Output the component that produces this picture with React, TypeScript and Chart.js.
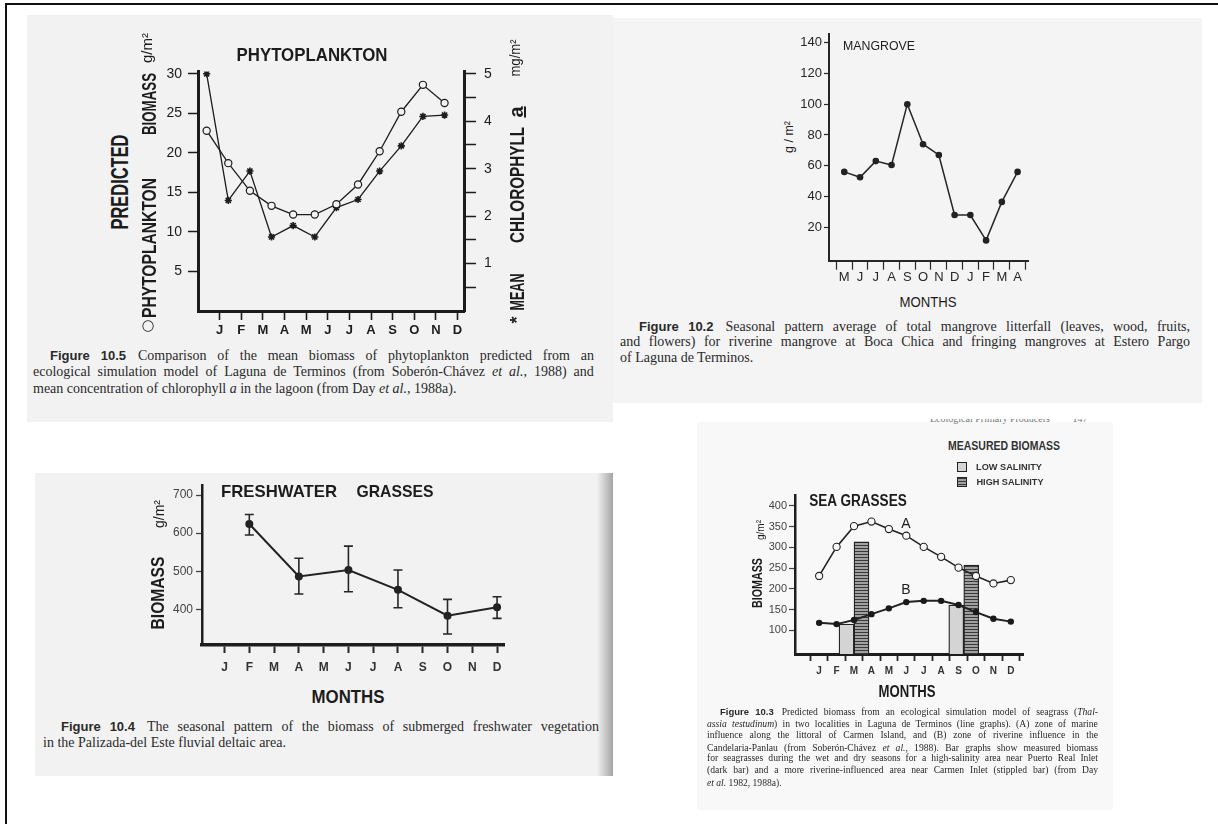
import React, { useEffect, useRef } from "react";
import { Chart, registerables } from "chart.js";

Chart.register(...registerables);

const SANS = "'Liberation Sans', Arial, sans-serif";
const SERIF = "'Liberation Serif', 'Times New Roman', serif";
const INK = "#1c1c1c";

// ---------------- Figure 10.5 : phytoplankton ----------------
const PHYTO_MONTHS = ["J", "F", "M", "A", "M", "J", "J", "A", "S", "O", "N", "D"];
const PHYTO_PREDICTED = [22.8, 18.7, 15.2, 13.3, 12.2, 12.2, 13.5, 16.0, 20.2, 25.2, 28.6, 26.3];
const PHYTO_CHLOROPHYLL = [5.0, 2.33, 2.95, 1.56, 1.8, 1.56, 2.18, 2.35, 2.95, 3.48, 4.1, 4.13];
const PHYTO_LEFT_TICKS = [5, 10, 15, 20, 25, 30];
const PHYTO_RIGHT_TICKS = [0.5, 1, 1.5, 2, 2.5, 3, 3.5, 4, 4.5, 5];

// ---------------- Figure 10.2 : mangrove ----------------
const MANGROVE_MONTHS = ["M", "J", "J", "A", "S", "O", "N", "D", "J", "F", "M", "A"];
const MANGROVE_LITTERFALL = [56, 52.5, 63, 60.5, 100, 74, 67, 28, 28, 11.5, 36.5, 56];
const MANGROVE_TICKS = [20, 40, 60, 80, 100, 120, 140];

// ---------------- Figure 10.4 : freshwater grasses ----------------
const FW_MONTHS = ["J", "F", "M", "A", "M", "J", "J", "A", "S", "O", "N", "D"];
const FW_SAMPLE_MONTHS = [1, 3, 5, 7, 9, 11];
const FW_MEAN = [624, 486, 503, 451, 383, 405];
const FW_HIGH = [649, 534, 566, 503, 426, 433];
const FW_LOW = [595, 440, 446, 404, 335, 376];
const FW_TICKS = [400, 500, 600, 700];

// ---------------- Figure 10.3 : sea grasses ----------------
const SG_MONTHS = ["J", "F", "M", "A", "M", "J", "J", "A", "S", "O", "N", "D"];
const SG_A = [231, 301, 351, 362, 344, 328, 301, 277, 251, 231, 213, 221];
const SG_B = [118, 115, 125, 139, 153, 168, 171, 171, 161, 144, 128, 121];
const SG_BAR_MONTHS = [2, 8.3];
const SG_LOW_SALINITY = [115, 161];
const SG_HIGH_SALINITY = [313, 257];
const SG_TICKS = [100, 150, 200, 250, 300, 350, 400];

// ---------------- helpers ----------------
let measureCtx: CanvasRenderingContext2D | null = null;
function textWidth(t: string, font: string): number {
  if (!measureCtx) measureCtx = document.createElement("canvas").getContext("2d");
  measureCtx!.font = font;
  return measureCtx!.measureText(t).width;
}

type TxtProps = {
  x: number; y: number; t: string; font: string; w?: number; rot?: boolean;
  color?: string; underline?: boolean;
};
function Txt({ x, y, t, font, w, rot, color = INK, underline }: TxtProps) {
  const s = w ? w / textWidth(t, font) : 1;
  const tf = `translate(-50%,-50%)${rot ? " rotate(-90deg)" : ""} scaleX(${s.toFixed(3)})`;
  return (
    <div
      style={{
        position: "absolute", left: x, top: y, font, lineHeight: 1, color,
        whiteSpace: "pre", transform: tf, textDecoration: underline ? "underline" : "none",
      }}
    >
      {t}
    </div>
  );
}

type Seg = { t?: string; f?: string; gap?: number };
function Line({ x, y, w, segs, font, justify = true, color = "#2a2a2a" }:
  { x: number; y: number; w: number; segs: Seg[]; font: string; justify?: boolean; color?: string }) {
  let nat = 0;
  let spaces = 0;
  segs.forEach((s) => {
    if (s.gap) nat += s.gap;
    if (s.t) {
      nat += textWidth(s.t, s.f || font);
      spaces += (s.t.match(/ /g) || []).length;
    }
  });
  const ws = justify && spaces ? (w - nat) / spaces : 0;
  return (
    <div
      style={{
        position: "absolute", left: x, top: y, font, lineHeight: 1, color,
        whiteSpace: "pre", wordSpacing: ws, transform: "translateY(-50%)",
      }}
    >
      {segs.map((s, k) =>
        s.gap ? (
          <span key={k} style={{ display: "inline-block", width: s.gap }} />
        ) : (
          <span key={k} style={s.f ? { font: s.f } : undefined}>{s.t}</span>
        )
      )}
    </div>
  );
}

function ChartBox({ left, top, width, height, build }:
  { left: number; top: number; width: number; height: number; build: (c: HTMLCanvasElement) => Chart }) {
  const ref = useRef<HTMLCanvasElement>(null);
  useEffect(() => {
    const chart = build(ref.current!);
    return () => chart.destroy();
  }, []);
  return (
    <canvas ref={ref} width={width} height={height}
      style={{ position: "absolute", left, top, width, height }} />
  );
}

const baseOptions = (padding: any) => ({
  responsive: false,
  animation: false as const,
  devicePixelRatio: 1,
  layout: { padding },
  plugins: { legend: { display: false }, tooltip: { enabled: false } },
});

const tickFont = (size: number, weight: any = "normal") => ({ family: SANS, size, weight });

// ---------------- chart builders ----------------
function buildPhyto(canvas: HTMLCanvasElement) {
  return new Chart(canvas, {
    type: "line",
    data: {
      datasets: [
        {
          label: "Predicted phytoplankton biomass",
          data: PHYTO_PREDICTED.map((v, i) => ({ x: i + 0.4, y: v })),
          yAxisID: "y",
          borderColor: INK, borderWidth: 1.3,
          pointStyle: "circle", pointRadius: 3.6,
          pointBackgroundColor: "#f2f2f2", pointBorderColor: INK, pointBorderWidth: 1.2,
        },
        {
          label: "Mean chlorophyll a",
          data: PHYTO_CHLOROPHYLL.map((v, i) => ({ x: i + 0.4, y: v })),
          yAxisID: "y1",
          borderColor: INK, borderWidth: 1.3,
          pointStyle: "star", pointRadius: 3.6,
          pointBorderColor: INK, pointBorderWidth: 1.6,
        },
      ],
    },
    options: {
      ...baseOptions({ top: 10, left: 0, right: 0, bottom: 0 }),
      scales: {
        x: {
          type: "linear", min: 0, max: 12.3,
          afterBuildTicks: (s: any) => { s.ticks = PHYTO_MONTHS.map((_, i) => ({ value: i + 1 })); },
          afterFit: (s: any) => { s.height = 34; },
          grid: { drawOnChartArea: false, tickLength: 9, tickWidth: 1.6, tickColor: INK },
          border: { color: INK, width: 3 },
          ticks: {
            callback: (v: any) => PHYTO_MONTHS[Math.round(v) - 1] ?? "",
            color: INK, font: tickFont(13, "bold"), padding: 3, maxRotation: 0, autoSkip: false,
          },
        },
        y: {
          position: "left", min: 0, max: 30.3,
          afterBuildTicks: (s: any) => { s.ticks = PHYTO_LEFT_TICKS.map((v) => ({ value: v })); },
          afterFit: (s: any) => { s.width = 48; },
          grid: { drawOnChartArea: false, tickLength: 10, tickWidth: 1.5, tickColor: INK },
          border: { color: INK, width: 3 },
          ticks: { color: INK, font: tickFont(14), padding: 6, autoSkip: false },
        },
        y1: {
          position: "right", min: 0, max: 5.05,
          afterBuildTicks: (s: any) => { s.ticks = PHYTO_RIGHT_TICKS.map((v) => ({ value: v })); },
          afterFit: (s: any) => { s.width = 56; },
          grid: { drawOnChartArea: false, tickLength: 12, tickWidth: 1.5, tickColor: INK },
          border: { color: INK, width: 3 },
          ticks: {
            callback: (v: any) => (Number.isInteger(v) ? String(v) : ""),
            color: INK, font: tickFont(14), padding: 8, autoSkip: false,
          },
        },
      },
    } as any,
  });
}

function buildMangrove(canvas: HTMLCanvasElement) {
  return new Chart(canvas, {
    type: "line",
    data: {
      datasets: [
        {
          label: "Mangrove litterfall",
          data: MANGROVE_LITTERFALL.map((v, i) => ({ x: i, y: v })),
          borderColor: "#262626", borderWidth: 1.5,
          pointRadius: 3.3, pointBackgroundColor: "#222", pointBorderColor: "#222", pointBorderWidth: 0,
        },
      ],
    },
    options: {
      ...baseOptions({ top: 10, left: 0, right: 12, bottom: 0 }),
      scales: {
        x: {
          type: "linear", min: -0.97, max: 11.66,
          afterBuildTicks: (s: any) => {
            const t: any[] = [];
            for (let i = 0; i <= MANGROVE_MONTHS.length; i++) {
              t.push({ value: i - 0.5 });
              if (i < MANGROVE_MONTHS.length) t.push({ value: i });
            }
            s.ticks = t;
          },
          afterFit: (s: any) => { s.height = 29.3; },
          grid: {
            drawOnChartArea: false, tickLength: 9, tickWidth: 1.2,
            tickColor: (ctx: any) => (ctx.tick && Number.isInteger(ctx.tick.value) ? "rgba(0,0,0,0)" : "#262626"),
          },
          border: { color: "#262626", width: 2 },
          ticks: {
            callback: (v: any) => (Number.isInteger(v) ? MANGROVE_MONTHS[v] : ""),
            color: "#262626", font: tickFont(13), padding: 0, maxRotation: 0, autoSkip: false,
          },
        },
        y: {
          min: -1.7, max: 145.6,
          afterBuildTicks: (s: any) => { s.ticks = MANGROVE_TICKS.map((v) => ({ value: v })); },
          afterFit: (s: any) => { s.width = 30; },
          grid: { drawOnChartArea: false, tickLength: 5, tickWidth: 1.2, tickColor: "#262626" },
          border: { color: "#262626", width: 2 },
          ticks: { color: "#262626", font: tickFont(13), padding: 2, autoSkip: false },
        },
      },
    } as any,
  });
}

const errorBarPlugin = {
  id: "fwErrorBars",
  afterDatasetsDraw(chart: any) {
    const { ctx, scales } = chart;
    const x = scales.x;
    const y = scales.y;
    ctx.save();
    ctx.strokeStyle = "#262626";
    ctx.lineWidth = 1.6;
    FW_SAMPLE_MONTHS.forEach((m, i) => {
      const px = x.getPixelForValue(m);
      const top = y.getPixelForValue(FW_HIGH[i]);
      const bot = y.getPixelForValue(FW_LOW[i]);
      ctx.beginPath();
      ctx.moveTo(px, top); ctx.lineTo(px, bot);
      ctx.moveTo(px - 4.5, top); ctx.lineTo(px + 4.5, top);
      ctx.moveTo(px - 4.5, bot); ctx.lineTo(px + 4.5, bot);
      ctx.stroke();
    });
    ctx.restore();
  },
};

function buildFreshwater(canvas: HTMLCanvasElement) {
  return new Chart(canvas, {
    type: "line",
    data: {
      datasets: [
        {
          label: "Freshwater grasses biomass",
          data: FW_SAMPLE_MONTHS.map((m, i) => ({ x: m, y: FW_MEAN[i] })),
          borderColor: "#222", borderWidth: 2,
          pointRadius: 4, pointBackgroundColor: "#222", pointBorderWidth: 0,
        },
      ],
    },
    plugins: [errorBarPlugin],
    options: {
      ...baseOptions({ top: 10, left: 0, right: 10.5, bottom: 0 }),
      scales: {
        x: {
          type: "linear", min: -0.91, max: 11.3,
          afterBuildTicks: (s: any) => { s.ticks = FW_MONTHS.map((_, i) => ({ value: i })); },
          afterFit: (s: any) => { s.height = 35; },
          grid: { drawOnChartArea: false, tickLength: 8, tickWidth: 2, tickColor: "#262626" },
          border: { color: "#1e1e1e", width: 3.5 },
          ticks: {
            callback: (v: any) => FW_MONTHS[Math.round(v)] ?? "",
            color: "#333", font: tickFont(12, "bold"), padding: 7, maxRotation: 0, autoSkip: false,
          },
        },
        y: {
          min: 306, max: 726,
          afterBuildTicks: (s: any) => { s.ticks = FW_TICKS.map((v) => ({ value: v })); },
          afterFit: (s: any) => { s.width = 52; },
          grid: { drawOnChartArea: false, tickLength: 6, tickWidth: 1.3, tickColor: "#444" },
          border: { color: "#1e1e1e", width: 2.5 },
          ticks: { color: "#444", font: tickFont(12), padding: 3, autoSkip: false },
        },
      },
    } as any,
  });
}

function makeHatch(): CanvasPattern | string {
  const c = document.createElement("canvas");
  c.width = 4; c.height = 3;
  const g = c.getContext("2d");
  if (!g) return "#888";
  g.fillStyle = "#a0a0a0";
  g.fillRect(0, 0, 4, 3);
  g.fillStyle = "#3a3a3a";
  g.fillRect(0, 0, 4, 1);
  return g.createPattern(c, "repeat") || "#888";
}

function buildSeaGrass(canvas: HTMLCanvasElement) {
  const hatch = makeHatch();
  return new Chart(canvas, {
    type: "line",
    data: {
      datasets: [
        {
          type: "bar", label: "Low salinity", order: 2,
          data: SG_BAR_MONTHS.map((m, i) => ({ x: m, y: SG_LOW_SALINITY[i] })),
          backgroundColor: "#d4d4d4", borderColor: "#222", borderWidth: 1.3, barThickness: 15,
        } as any,
        {
          type: "bar", label: "High salinity", order: 2,
          data: SG_BAR_MONTHS.map((m, i) => ({ x: m, y: SG_HIGH_SALINITY[i] })),
          backgroundColor: hatch, borderColor: "#222", borderWidth: 1.3, barThickness: 15,
        } as any,
        {
          type: "line", label: "A", order: 1,
          data: SG_A.map((v, i) => ({ x: i, y: v })),
          borderColor: "#222", borderWidth: 1.6,
          pointRadius: 3.6, pointBackgroundColor: "#f8f8f8", pointBorderColor: "#222", pointBorderWidth: 1.1,
        },
        {
          type: "line", label: "B", order: 1,
          data: SG_B.map((v, i) => ({ x: i, y: v })),
          borderColor: "#222", borderWidth: 2,
          pointRadius: 3.2, pointBackgroundColor: "#1a1a1a", pointBorderWidth: 0,
        },
      ],
    },
    options: {
      ...baseOptions({ top: 10, left: 0, right: 11.7, bottom: 0 }),
      scales: {
        x: {
          type: "linear", min: -0.84, max: 11.17,
          afterBuildTicks: (s: any) => { s.ticks = SG_MONTHS.map((_, i) => ({ value: i })); },
          afterFit: (s: any) => { s.height = 31; },
          grid: { drawOnChartArea: false, tickLength: 7, tickWidth: 1.8, tickColor: "#262626" },
          border: { color: "#1e1e1e", width: 3 },
          ticks: {
            callback: (v: any) => SG_MONTHS[Math.round(v)] ?? "",
            color: "#333", font: tickFont(10, "bold"), padding: 4, maxRotation: 0, autoSkip: false,
          },
        },
        y: {
          min: 43, max: 426,
          afterBuildTicks: (s: any) => { s.ticks = SG_TICKS.map((v) => ({ value: v })); },
          afterFit: (s: any) => { s.width = 40; },
          grid: { drawOnChartArea: false, tickLength: 6, tickWidth: 1.2, tickColor: "#444" },
          border: { color: "#1e1e1e", width: 2.5 },
          ticks: { color: "#444", font: tickFont(11), padding: 2, autoSkip: false },
        },
      },
    } as any,
  });
}

// ---------------- page ----------------
const B = (s: number) => `bold ${s}px ${SANS}`;
const R = (s: number) => `${s}px ${SANS}`;
const SER = (s: number) => `${s}px ${SERIF}`;
const SERI = (s: number) => `italic ${s}px ${SERIF}`;

export default function App() {
  const panel = (l: number, t: number, r: number, b: number, bg: string) => ({
    position: "absolute" as const, left: l, top: t, width: r - l, height: b - t, background: bg,
  });
  return (
    <div style={{ position: "fixed", left: 0, top: 0, width: 1218, height: 824, background: "#fff", overflow: "hidden" }}>
      {/* outer frame */}
      <div style={{ position: "absolute", left: 5, top: 3, width: 1213, height: 2, background: "#111" }} />
      <div style={{ position: "absolute", left: 5, top: 3, width: 2, height: 821, background: "#111" }} />

      {/* scanned page backgrounds */}
      <div style={panel(27, 15, 613, 422, "#f2f2f2")} />
      <div style={panel(613, 18, 1202, 403, "#f4f4f4")} />
      <div style={panel(35, 473, 613, 776, "#f2f2f2")} />
      <div style={{ position: "absolute", left: 597, top: 473, width: 16, height: 303, background: "linear-gradient(to right, rgba(150,150,150,0), rgba(150,150,150,0.85))" }} />
      <div style={panel(697, 422, 1113, 810, "#f8f8f8")} />
      {/* cropped running head of the scanned page */}
      <div style={{ position: "absolute", left: 930, top: 419, width: 175, height: 6, overflow: "hidden" }}>
        <div style={{ position: "absolute", left: 0, top: -5, font: `10px ${SERIF}`, color: "#777", whiteSpace: "pre", lineHeight: 1 }}>
          {"Ecological Primary Producers         147"}
        </div>
      </div>

      {/* ---- Figure 10.5 ---- */}
      <ChartBox left={150} top={55} width={370} height={290} build={buildPhyto} />
      <Txt x={312} y={55} t="PHYTOPLANKTON" font={B(18)} w={151} />
      <Txt x={120} y={182} t="PREDICTED" font={B(24)} w={95} rot />
      <Txt x={148} y={325} t="○" font={`15px 'DejaVu Sans', sans-serif`} />
      <Txt x={148} y={248} t="PHYTOPLANKTON" font={B(21)} w={140} rot />
      <Txt x={148} y={104} t="BIOMASS" font={B(21)} w={62} rot />
      <Txt x={146} y={48} t="g/m²" font={R(15)} w={30} rot />
      <Txt x={517} y={320} t="*" font={B(18)} rot />
      <Txt x={516} y={292} t="MEAN" font={B(21)} w={37} rot />
      <Txt x={516} y={185} t="CHLOROPHYLL" font={B(21)} w={116} rot />
      <Txt x={516} y={112} t="a" font={B(20)} rot underline />
      <Txt x={514} y={58} t="mg/m²" font={R(15)} w={37} rot />
      <Line x={50} y={355} w={544} font={SER(14)}
        segs={[{ t: "Figure 10.5", f: B(13) }, { gap: 12 }, { t: "Comparison of the mean biomass of phytoplankton predicted from an" }]} />
      <Line x={33} y={372} w={561} font={SER(14)}
        segs={[{ t: "ecological simulation model of Laguna de Terminos (from Soberón-Chávez " }, { t: "et al.", f: SERI(14) }, { t: ", 1988) and" }]} />
      <Line x={33} y={389} w={561} font={SER(14)} justify={false}
        segs={[{ t: "mean concentration of chlorophyll " }, { t: "a", f: SERI(14) }, { t: " in the lagoon (from Day " }, { t: "et al.", f: SERI(14) }, { t: ", 1988a)." }]} />

      {/* ---- Figure 10.2 ---- */}
      <ChartBox left={799} top={24} width={241} height={266} build={buildMangrove} />
      <Txt x={879} y={45} t="MANGROVE" font={R(13)} w={72} />
      <Txt x={928} y={302} t="MONTHS" font={R(14)} w={57} />
      <Txt x={789} y={137} t="g / m²" font={R(12)} w={32} rot />
      <Line x={639} y={326} w={551} font={SER(14)}
        segs={[{ t: "Figure 10.2", f: B(13) }, { gap: 12 }, { t: "Seasonal pattern average of total mangrove litterfall (leaves, wood, fruits," }]} />
      <Line x={620} y={342} w={570} font={SER(14)}
        segs={[{ t: "and flowers) for riverine mangrove at Boca Chica and fringing mangroves at Estero Pargo" }]} />
      <Line x={620} y={358} w={570} font={SER(14)} justify={false}
        segs={[{ t: "of Laguna de Terminos." }]} />

      {/* ---- Figure 10.4 ---- */}
      <ChartBox left={150} top={475} width={365} height={205} build={buildFreshwater} />
      <Txt x={278.7} y={491} t="FRESHWATER" font={B(17)} w={116} />
      <Txt x={394.5} y={491} t="GRASSES" font={B(17)} w={77} />
      <Txt x={157} y={593} t="BIOMASS" font={B(19)} w={73} rot />
      <Txt x={159} y={514} t="g/m²" font={R(14)} w={28} rot />
      <Txt x={348} y={697} t="MONTHS" font={B(18)} w={73} />
      <Line x={61} y={726} w={538} font={SER(14)}
        segs={[{ t: "Figure 10.4", f: B(13) }, { gap: 12 }, { t: "The seasonal pattern of the biomass of submerged freshwater vegetation" }]} />
      <Line x={43} y={743} w={400} font={SER(14)} justify={false}
        segs={[{ t: "in the Palizada-del Este fluvial deltaic area." }]} />

      {/* ---- Figure 10.3 ---- */}
      <ChartBox left={755} top={485} width={280} height={200} build={buildSeaGrass} />
      <Txt x={1004} y={446} t="MEASURED BIOMASS" font={B(12)} w={112} color="#333" />
      <div style={{ position: "absolute", left: 957, top: 462, width: 8, height: 8, background: "#d4d4d4", border: "1px solid #222" }} />
      <div style={{ position: "absolute", left: 957, top: 477, width: 8, height: 8, border: "1px solid #222", background: "repeating-linear-gradient(to bottom, #3a3a3a 0px, #3a3a3a 1px, #a0a0a0 1px, #a0a0a0 3px)" }} />
      <Txt x={1009} y={467} t="LOW SALINITY" font={B(9.5)} w={66} color="#333" />
      <Txt x={1009.5} y={482} t="HIGH SALINITY" font={B(9.5)} w={67} color="#333" />
      <Txt x={857.5} y={501} t="SEA GRASSES" font={B(16)} w={98} />
      <Txt x={906} y={523} t="A" font={R(14)} />
      <Txt x={906} y={589} t="B" font={R(14)} />
      <Txt x={756} y={583} t="BIOMASS" font={B(15)} w={50} rot />
      <Txt x={760} y={530} t="g/m²" font={R(11)} w={20} rot />
      <Txt x={907} y={692} t="MONTHS" font={B(16)} w={57} />
      <Line x={720} y={711} w={378} font={SER(9.6)}
        segs={[{ t: "Figure 10.3", f: B(9.5) }, { gap: 8 }, { t: "Predicted biomass from an ecological simulation model of seagrass (" }, { t: "Thal-", f: SERI(9.6) }]} />
      <Line x={707} y={723} w={391} font={SER(9.6)}
        segs={[{ t: "assia testudinum", f: SERI(9.6) }, { t: ") in two localities in Laguna de Terminos (line graphs). (A) zone of marine" }]} />
      <Line x={707} y={735} w={391} font={SER(9.6)}
        segs={[{ t: "influence along the littoral of Carmen Island, and (B) zone of riverine influence in the" }]} />
      <Line x={707} y={746.5} w={391} font={SER(9.6)}
        segs={[{ t: "Candelaria-Panlau (from Soberón-Chávez " }, { t: "et al.", f: SERI(9.6) }, { t: ", 1988). Bar graphs show measured biomass" }]} />
      <Line x={707} y={758} w={391} font={SER(9.6)}
        segs={[{ t: "for seagrasses during the wet and dry seasons for a high-salinity area near Puerto Real Inlet" }]} />
      <Line x={707} y={770} w={391} font={SER(9.6)}
        segs={[{ t: "(dark bar) and a more riverine-influenced area near Carmen Inlet (stippled bar) (from Day" }]} />
      <Line x={707} y={782} w={391} font={SER(9.6)} justify={false}
        segs={[{ t: "et al.", f: SERI(9.6) }, { t: " 1982, 1988a)." }]} />
    </div>
  );
}
